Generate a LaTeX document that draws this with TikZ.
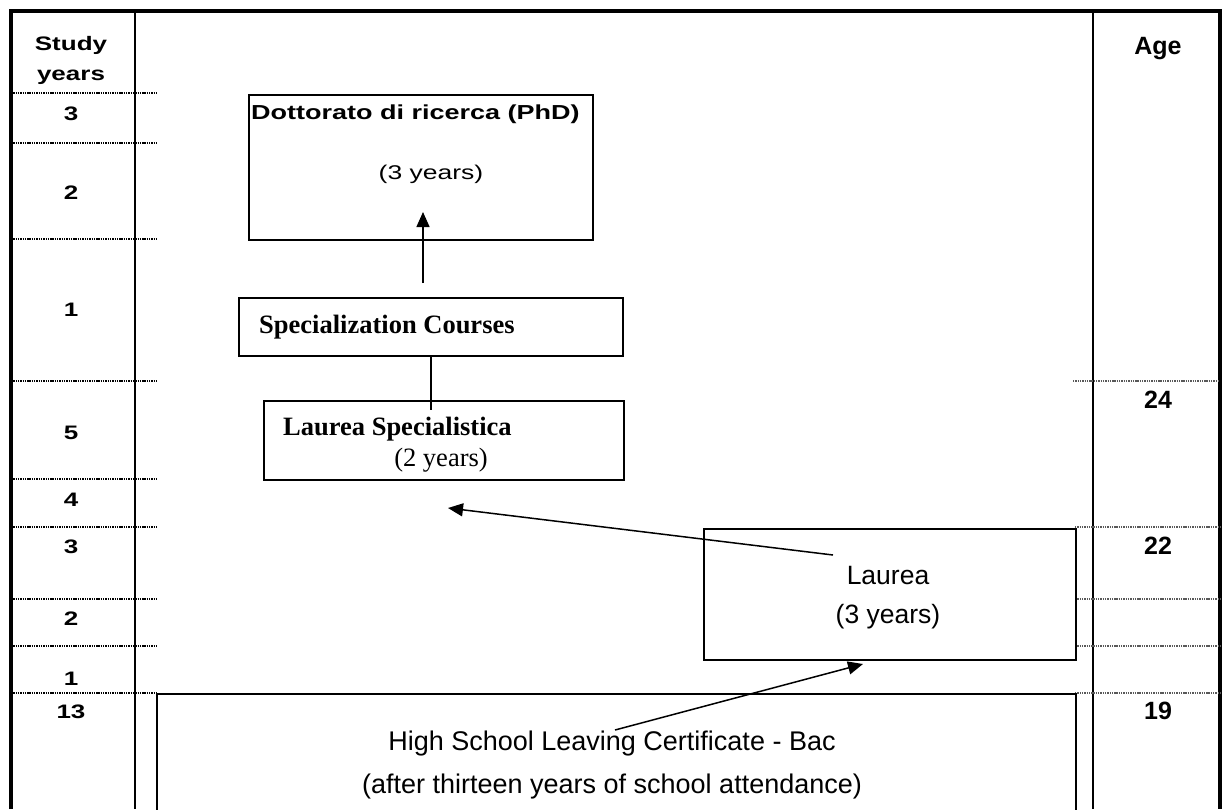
\documentclass[tikz,border=0pt]{standalone}
\usepackage{fontspec}
\usepackage{graphicx}
\setmainfont{Liberation Sans}
\newfontfamily\tnr{Liberation Serif}
\usetikzlibrary{arrows.meta}
\newcommand{\sqz}[1]{\scalebox{1}[0.75]{#1}}
\tikzset{
 frame/.style={line width=3.5pt},
 col/.style={line width=2pt},
 dotline/.style={line width=1.6pt, dash pattern=on 1.4pt off 0.9pt},
 dotlineg/.style={line width=1.6pt, dash pattern=on 1.4pt off 0.9pt, black!65},
 box/.style={draw, line width=2pt, inner sep=0pt, anchor=north west},
 lab/.style={font=\fontsize{26}{30}\selectfont\bfseries, anchor=base, inner sep=0pt},
 agelab/.style={font=\fontsize{25}{29}\selectfont\bfseries, anchor=base, inner sep=0pt},
 txt/.style={font=\fontsize{26.5}{30}\selectfont, anchor=base, inner sep=0pt},
 ttxt/.style={font=\fontsize{26.5}{30}\selectfont\tnr\bfseries, anchor=base west, inner sep=0pt},
 arr/.style={line width=1.5pt, -{Triangle[length=15pt,width=13pt]}},
 conn/.style={line width=1.5pt},
}
\begin{document}
\begin{tikzpicture}[x=1pt,y=-1pt]
\useasboundingbox (0,0) rectangle (1223,809);
% frame and columns
\draw[frame] (11,809) -- (11,11) -- (1220,11) -- (1220,809);
\draw[col] (135,11) -- (135,809);
\draw[col] (1093,11) -- (1093,809);
% dotted rules, left column
\foreach \y in {93,143,239,381,479,527,599,646,693}
  \draw[dotline] (11,\y) -- (156,\y);
% dotted rules, right column
\draw[dotlineg] (1073,381) -- (1220,381);
\foreach \y in {527,599,646,693}
  \draw[dotlineg] (1075,\y) -- (1220,\y);
% left column labels
\node[lab] (sy1) at (71,50) {\sqz{Study}};
\node[lab] (sy2) at (71,80) {\sqz{years}};
\node[lab] (l3a) at (71,120) {\sqz{3}};
\node[lab] (l2a) at (71,199) {\sqz{2}};
\node[lab] (l1a) at (71,316) {\sqz{1}};
\node[lab] (l5) at (71,439) {\sqz{5}};
\node[lab] (l4) at (71,506) {\sqz{4}};
\node[lab] (l3b) at (71,553) {\sqz{3}};
\node[lab] (l2b) at (71,625) {\sqz{2}};
\node[lab] (l1b) at (71,685) {\sqz{1}};
\node[lab] (l13) at (71,718) {\sqz{13}};
% right column labels
\node[agelab] (age) at (1158,54) {Age};
\node[agelab] (a24) at (1158,408) {24};
\node[agelab] (a22) at (1158,554) {22};
\node[agelab] (a19) at (1158,719) {19};
% PhD box
\node[box, minimum width=344, minimum height=145] (phd) at (248,94) {};
\node[font=\fontsize{27}{30}\selectfont\bfseries, anchor=base west, inner sep=0pt] (phdt) at (251,119) {\sqz{Dottorato di ricerca (PhD)}};
\node[txt] (phdy) at (431,179) {\sqz{(3 years)}};
% Specialization courses
\node[box, minimum width=384, minimum height=58] (spec) at (238,297) {};
\node[ttxt] (spect) at (259,333) {Specialization Courses};
% Laurea specialistica
\node[box, minimum width=360, minimum height=79] (ls) at (263,400) {};
\node[ttxt] (lst) at (283,435) {Laurea Specialistica};
\node[txt, font=\fontsize{26.5}{30}\selectfont\tnr] (lsy) at (441,466) {(2 years)};
% Laurea
\node[box, minimum width=372, minimum height=131] (la) at (703,528) {};
\node[txt] (lat) at (888,584) {Laurea};
\node[txt] (lay) at (888,623) {(3 years)};
% High school
\node[box, minimum width=919, minimum height=160] (hs) at (156,693) {};
\node[txt, font=\fontsize{27}{30}\selectfont] (hst1) at (612,750) {High School Leaving Certificate - Bac};
\node[txt, font=\fontsize{27}{30}\selectfont] (hst2) at (612,793) {(after thirteen years of school attendance)};
% connectors
\coordinate (p1) at (423,283);
\coordinate (p2) at (423,212);
\draw[arr] (p1) -- (p2);
\coordinate (q1) at (431,355);
\coordinate (q2) at (431,410);
\draw[conn] (q1) -- (q2);
\coordinate (r1) at (833,555);
\coordinate (r2) at (448,508);
\draw[arr] (r1) -- (r2);
\coordinate (s1) at (615,730);
\coordinate (s2) at (863,664);
\draw[arr] (s1) -- (s2);
\end{tikzpicture}
\end{document}
